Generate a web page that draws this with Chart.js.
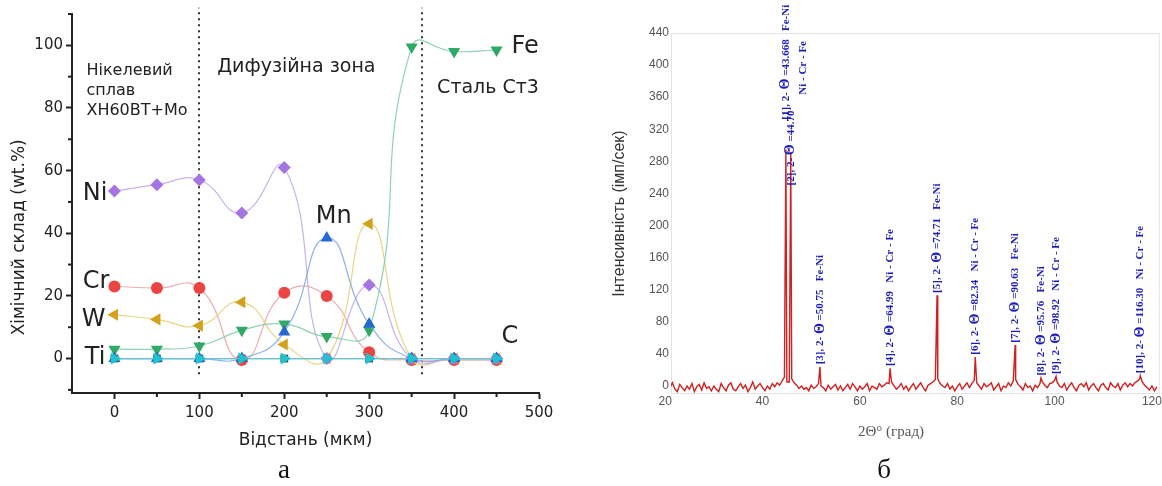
<!DOCTYPE html>
<html lang="uk">
<head>
<meta charset="utf-8">
<title>Хімічний склад та дифрактограма</title>
<script src="https://cdn.jsdelivr.net/npm/chart.js@4.4.1/dist/chart.umd.min.js"></script>
<style>
  html, body { margin: 0; padding: 0; background: #fff; }
  #wrap { position: relative; width: 1162px; height: 486px; overflow: hidden; }
  .box { position: absolute; top: 0; height: 486px; }
  #boxA { left: 0; width: 570px; }
  #boxB { left: 580px; width: 582px; }
  .cap { position: absolute; top: 454px; width: 40px; text-align: center;
         font-family: "Liberation Serif", serif; font-size: 27px; line-height: 30px; color: #111; }
</style>
</head>
<body>
<div id="wrap">
  <div class="box" id="boxA"><canvas id="profile"></canvas></div>
  <div class="box" id="boxB"><canvas id="xrd"></canvas></div>
  <div class="cap" style="left:264px">а</div>
  <div class="cap" style="left:864px">б</div>
</div>
<script>
// ---- (а) concentration profile across the joint ----
const distance = [0, 50, 100, 150, 200, 250, 300, 350, 400, 450];
const niValues = [53.5, 55.5, 57, 46.5, 61, 0, 23.5, 0, 0, 0];
const crValues = [23, 22.5, 22.5, -0.5, 21, 20, 2, -0.5, -0.5, -0.5];
const wValues  = [14, 12.5, 10.5, 18, 4.5, 0, 43, 0, 0, 0];
const feValues = [3, 3, 4, 9, 11, 7, 9, 99.5, 98, 98.5];
const mnValues = [0, 0, 0, 0, 8.5, 38.5, 11, 0, 0, 0];
const tiValues = [0, 0, 0, 0, 0, 0, 0, 0, 0, 0];
const cValues  = [0, 0, 0, 0, 0, 0, 0, 0, 0, 0];
const zoneBorders = [100, 362];

// ---- (б) XRD pattern: background scan + peaks ----
const scanStart = 20, scanStep = 0.5;
const background = [
  1, -6, -2, 4, -4, -7, 2, -2, -6, 0, -4, 3, -7, -1, 2, -5, 4, -3, -1, -6,
  0, -4, -7, 3, -2, -6, 1, 4, -4, -6, -1, 3, -3, 1, -7, -2, 5, -4, 0, 3,
  -2, -6, 0, -4, 3, -1, 4, 1, 6, 11, 5, 5, 9, 4, 1, -3, 0, -4, -2, -6,
  1, -3, -1, 3, 0, -2, -6, 1, -4, -1, 2, -5, 0, -6, -2, 2, -4, 3, -1, -6,
  0, -4, -1, 3, -6, 0, -2, -4, 3, -1, 1, 4, 3, 5, 0, -4, -1, 3, -4, 0,
  -6, -1, 3, -4, 0, 4, -2, -6, 1, 3, 5, 8, 9, 3, 0, -2, 3, -4, 0, -6,
  -1, 3, -4, 0, 4, -2, 3, 7, 4, 0, -4, 3, -1, 1, 4, -5, -1, 3, -6, 0,
  -2, 4, 0, 6, 8, 2, -1, -5, 3, -2, 0, -6, 1, -2, 3, 5, 1, -2, 3, 4,
  7, 5, 0, -2, 3, -5, 0, 4, -2, -6, 1, 3, -1, 4, -5, 0, 3, -2, -6, 1,
  3, -2, -5, 4, 0, -2, 3, -5, 1, 4, -1, 3, 0, 4, 6, 9, 5, 1, -2, -5,
  0, -6, -1
];
const angleTicks = [20, 40, 60, 80, 100, 120];
const peakNo     = [1, 2, 3, 4, 5, 6, 7, 8, 9, 10];
const peakAngle  = [44.8, 45.8, 51.8, 66.2, 75.85, 83.7, 91.9, 97.2, 100.3, 117.6];
const peakHeight = [295, 290, 24, 22, 113, 36, 51, 10, 12, 13];
const peakTheta  = ['43.668', '44.70', '50.75', '64.99', '74.71', '82.34', '90.63', '95.76', '98.92', '116.30'];
const peakPhase  = ['Fe-Ni', 'Ni - Cr - Fe', 'Fe-Ni', 'Ni - Cr - Fe', 'Fe-Ni', 'Ni - Cr - Fe', 'Fe-Ni', 'Fe-Ni', 'Ni - Cr - Fe', 'Ni - Cr - Fe'];
const peakLabelAt = [332, 250, 27, 25, 116, 39, 54, 13, 15, 16];

const sans = '"DejaVu Sans", sans-serif';
const ink = '#222';

function pts(vals) {
  return distance.map((d, i) => ({ x: d, y: vals[i] }));
}

function series(label, vals, color, line, style, rot, r) {
  return {
    label: label,
    data: pts(vals),
    borderColor: line,
    borderWidth: 1.2,
    backgroundColor: color,
    pointBackgroundColor: color,
    pointBorderColor: color,
    pointBorderWidth: 0,
    pointStyle: style,
    pointRotation: rot,
    pointRadius: r,
    tension: 0.5
  };
}

// labels next to the curves: anchored on a data point, offset in px
const curveLabels = [
  { text: 'Ni', vals: niValues, idx: 0, dx: -7, dy: 3, align: 'right' },
  { text: 'Cr', vals: crValues, idx: 0, dx: -5, dy: -5, align: 'right' },
  { text: 'W',  vals: wValues,  idx: 0, dx: -9, dy: 5, align: 'right' },
  { text: 'Ti', vals: tiValues, idx: 0, dx: -9, dy: -1, align: 'right' },
  { text: 'Mn', vals: mnValues, idx: 5, dx: -11, dy: -21, align: 'left' },
  { text: 'Fe', vals: feValues, idx: 9, dx: 15, dy: -3, align: 'left' },
  { text: 'C',  vals: cValues,  idx: 9, dx: 5, dy: -22, align: 'left' }
];

const zoneNotes = [
  { text: 'Нікелевий', x: -33, y: 92, size: 16 },
  { text: 'сплав', x: -33, y: 85.5, size: 16 },
  { text: 'ХН60ВТ+Мо', x: -33, y: 79, size: 16 },
  { text: 'Дифузійна зона', x: 121, y: 93, size: 19 },
  { text: 'Сталь Ст3', x: 380, y: 86.5, size: 19 }
];

const profileDecor = {
  id: 'profileDecor',
  beforeDatasetsDraw(chart) {
    const { ctx, scales: { x, y } } = chart;
    ctx.save();
    ctx.strokeStyle = '#333';
    ctx.lineWidth = 2;
    ctx.setLineDash([2, 4]);
    zoneBorders.forEach(b => {
      const px = Math.round(x.getPixelForValue(b));
      ctx.beginPath();
      ctx.moveTo(px, y.getPixelForValue(-5));
      ctx.lineTo(px, y.getPixelForValue(112));
      ctx.stroke();
    });
    ctx.restore();
  },
  afterDraw(chart) {
    const { ctx, chartArea, scales: { x, y } } = chart;
    ctx.save();
    // minor ticks
    ctx.strokeStyle = ink;
    ctx.lineWidth = 2;
    for (let v = 50; v <= 450; v += 100) {
      const px = x.getPixelForValue(v);
      ctx.beginPath();
      ctx.moveTo(px, chartArea.bottom);
      ctx.lineTo(px, chartArea.bottom + 4);
      ctx.stroke();
    }
    for (let v = -10; v <= 110; v += 20) {
      const py = y.getPixelForValue(v);
      ctx.beginPath();
      ctx.moveTo(chartArea.left, py);
      ctx.lineTo(chartArea.left - 4, py);
      ctx.stroke();
    }
    ctx.fillStyle = ink;
    ctx.textBaseline = 'middle';
    ctx.font = '24px ' + sans;
    curveLabels.forEach(l => {
      ctx.textAlign = l.align;
      ctx.fillText(l.text, x.getPixelForValue(distance[l.idx]) + l.dx, y.getPixelForValue(l.vals[l.idx]) + l.dy);
    });
    ctx.textAlign = 'left';
    zoneNotes.forEach(n => {
      ctx.font = n.size + 'px ' + sans;
      ctx.fillText(n.text, x.getPixelForValue(n.x), y.getPixelForValue(n.y));
    });
    // y axis title
    ctx.translate(chartArea.left - 52, y.getPixelForValue(38.7));
    ctx.rotate(-Math.PI / 2);
    ctx.textAlign = 'center';
    ctx.font = '17px ' + sans;
    ctx.fillText('Хімічний склад (wt.%)', 0, 0);
    ctx.restore();
  }
};

new Chart(document.getElementById('profile'), {
  type: 'line',
  data: {
    datasets: [
      series('Ti', tiValues, '#1fc3d0', 'rgba(100,200,215,0.9)', 'triangle', 90, 7),
      series('Mn', mnValues, '#2468d4', 'rgba(130,170,230,0.9)', 'triangle', 0, 7),
      series('Fe', feValues, '#30a868', 'rgba(130,205,170,0.9)', 'triangle', 180, 7),
      series('Ni', niValues, '#a374e2', 'rgba(195,170,230,0.9)', 'rectRot', 0, 6.5),
      series('W', wValues, '#d3a21a', 'rgba(230,210,120,0.9)', 'triangle', 270, 7),
      series('Cr', crValues, '#ec4343', 'rgba(235,165,165,0.9)', 'circle', 0, 6),
      series('C', cValues, '#3e4a50', 'rgba(140,160,165,0.9)', 'rect', 0, 5.5)
    ]
  },
  options: {
    responsive: true,
    maintainAspectRatio: false,
    animation: false,
    layout: { padding: { left: 0, right: 31, top: 14, bottom: 0 } },
    plugins: { legend: { display: false }, tooltip: { enabled: false } },
    scales: {
      x: {
        type: 'linear',
        min: -50,
        max: 500,
        afterFit: s => { s.height = 93; },
        ticks: { stepSize: 100, includeBounds: false, color: ink, padding: 5, font: { family: sans, size: 15 } },
        grid: { drawOnChartArea: false, tickLength: 6, tickWidth: 2, tickColor: ink },
        border: { width: 2, color: ink },
        title: { display: true, text: 'Відстань (мкм)', color: ink, font: { family: sans, size: 17 }, padding: { top: 0, bottom: 35 } }
      },
      y: {
        min: -11,
        max: 110,
        afterFit: s => { s.width = 72; },
        ticks: { stepSize: 20, includeBounds: false, color: ink, padding: 3, font: { family: sans, size: 15 } },
        grid: { drawOnChartArea: false, tickLength: 6, tickWidth: 2, tickColor: ink },
        border: { width: 2, color: ink }
      }
    }
  },
  plugins: [profileDecor]
});

// ---- XRD chart ----
const scanPoints = background.map((v, i) => ({ x: scanStart + i * scanStep, y: v }))
  .concat(peakAngle.map((a, i) => ({ x: a, y: peakHeight[i] })))
  .sort((p, q) => p.x - q.x);

const serif = '"Liberation Serif", "Times New Roman", serif';
const arial = '"Liberation Sans", Arial, sans-serif';
const labelBlue = '#1d1db8';

function drawPeakText(ctx, px, py, parts) {
  ctx.save();
  ctx.translate(px, py);
  ctx.rotate(-Math.PI / 2);
  ctx.textBaseline = 'middle';
  ctx.textAlign = 'left';
  let cx = 0;
  parts.forEach(p => {
    ctx.font = p.font;
    ctx.fillText(p.text, cx, 0);
    cx += ctx.measureText(p.text).width;
  });
  ctx.restore();
}

const xrdDecor = {
  id: 'xrdDecor',
  beforeDraw(chart) {
    const { ctx, chartArea } = chart;
    ctx.save();
    ctx.strokeStyle = '#e3e3e3';
    ctx.lineWidth = 1;
    ctx.strokeRect(chartArea.left + 0.5, chartArea.top + 0.5, chartArea.width - 1, chartArea.height - 1);
    ctx.restore();
  },
  afterDraw(chart) {
    const { ctx, chartArea, scales: { x, y } } = chart;
    ctx.save();
    ctx.fillStyle = labelBlue;
    const f = 'bold 11px ' + serif;
    const th = 'bold 14px ' + serif;
    peakNo.forEach((n, i) => {
      const px = x.getPixelForValue(peakAngle[i]);
      const py = y.getPixelForValue(peakLabelAt[i]);
      const head = [
        { text: '[' + n + '], 2- ', font: f },
        { text: 'Θ', font: th },
        { text: ' =' + peakTheta[i], font: f }
      ];
      if (n === 2) {
        drawPeakText(ctx, px, py, head);
        drawPeakText(ctx, px + 12, y.getPixelForValue(363), [{ text: peakPhase[i], font: f }]);
      } else {
        drawPeakText(ctx, px, py, head.concat([{ text: '   ' + peakPhase[i], font: f }]));
      }
    });
    ctx.fillStyle = '#555';
    ctx.font = '15px ' + serif;
    ctx.textAlign = 'center';
    ctx.textBaseline = 'middle';
    ctx.fillText('2Θ° (град)', x.getPixelForValue(66.4), chartArea.bottom + 38);
    ctx.restore();
  }
};

new Chart(document.getElementById('xrd'), {
  type: 'line',
  data: {
    datasets: [{
      data: scanPoints,
      borderColor: '#d02020',
      borderWidth: 1.4,
      pointRadius: 0,
      tension: 0
    }]
  },
  options: {
    responsive: true,
    maintainAspectRatio: false,
    animation: false,
    layout: { padding: { left: 0, right: 2, top: 33, bottom: 0 } },
    plugins: { legend: { display: false }, tooltip: { enabled: false } },
    scales: {
      x: {
        type: 'linear',
        min: 21.2,
        max: 121.6,
        afterFit: s => { s.height = 92; },
        afterBuildTicks: s => { s.ticks = angleTicks.map(v => ({ value: v })); },
        ticks: { color: '#555', padding: 0, font: { family: arial, size: 12 } },
        grid: { display: false, drawTicks: false },
        border: { display: false }
      },
      y: {
        min: -10,
        max: 440,
        afterFit: s => { s.width = 91; },
        ticks: { stepSize: 20, includeBounds: false, color: '#555', padding: 2, font: { family: arial, size: 12 } },
        grid: { display: false, drawTicks: false },
        border: { display: false },
        title: { display: true, text: 'Інтенсивність (імп/сек)', color: '#333', font: { family: arial, size: 16 }, padding: { top: 30, bottom: 0 } }
      }
    }
  },
  plugins: [xrdDecor]
});
</script>
</body>
</html>
